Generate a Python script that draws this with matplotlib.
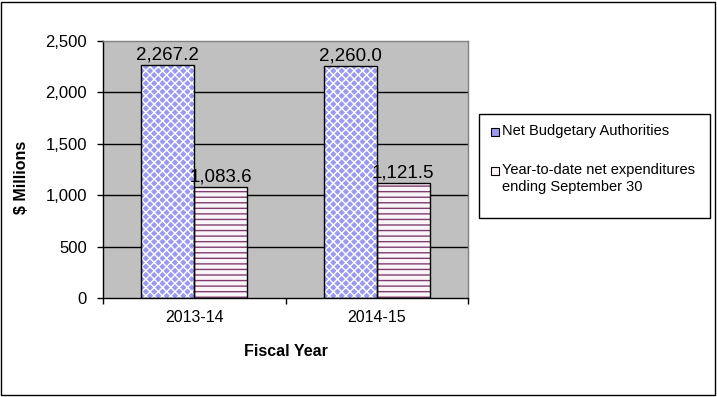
import matplotlib
matplotlib.use("Agg")
import matplotlib.pyplot as plt
from matplotlib.patches import Rectangle

plt.rcParams['font.family'] = ['Liberation Sans', 'DejaVu Sans']
plt.rcParams['hatch.linewidth'] = 1.0

categories = ["2013-14", "2014-15"]
series_names = ["Net Budgetary Authorities",
                "Year-to-date net expenditures\nending September 30"]
authorities = [2267.2, 2260.0]
expenditures = [1083.6, 1121.5]
value_labels_a = ["2,267.2", "2,260.0"]
value_labels_e = ["1,083.6", "1,121.5"]
yticks = [0, 500, 1000, 1500, 2000, 2500]
ytick_labels = ["0", "500", "1,000", "1,500", "2,000", "2,500"]

W, H = 717, 397
fig = plt.figure(figsize=(W / 100, H / 100), dpi=100)
fig.patch.set_facecolor('white')

L, R, T, B = 103, 468, 41, 298
ax = fig.add_axes([L / W, 1 - B / H, (R - L) / W, (B - T) / H])
ax.set_facecolor('#C0C0C0')
ax.set_xlim(0, 2)
ax.set_ylim(0, 2500)

bw = 0.29
centers = [i + 0.5 for i in range(len(categories))]
xa = [c - bw / 2 for c in centers]
xe = [c + bw / 2 for c in centers]

for g in yticks[1:-1]:
    ax.axhline(g, color='black', lw=1, zorder=1)

blue_style = dict(color='#9A9AF2', edgecolor='white', hatch='xxxx')
red_style = dict(color='#FBF4F8', edgecolor='#7E3E6E', hatch='---')

ax.bar(xa, authorities, width=bw, lw=0, zorder=2, **blue_style)
ax.bar(xa, authorities, width=bw, fill=False, edgecolor='black', lw=1, zorder=3)
ax.bar(xe, expenditures, width=bw, lw=0, zorder=2, **red_style)
ax.bar(xe, expenditures, width=bw, fill=False, edgecolor='black', lw=1, zorder=3)

for x, v, s in zip(xa, authorities, value_labels_a):
    ax.annotate(s, (x, v), xytext=(0, 1), textcoords='offset points',
                ha='center', va='bottom', fontsize=13.5)
for x, v, s in zip(xe, expenditures, value_labels_e):
    ax.annotate(s, (x, v), xytext=(0, 1), textcoords='offset points',
                ha='center', va='bottom', fontsize=13.5)

ax.set_yticks(yticks)
ax.set_yticklabels(ytick_labels, fontsize=12)
ax.tick_params(axis='y', length=4.5, width=1, pad=7, direction='out')

ax.set_xticks([0, 1, 2])
ax.set_xticklabels([])
ax.set_xticks(centers, minor=True)
ax.set_xticklabels(categories, minor=True, fontsize=11.5)
ax.tick_params(axis='x', which='major', length=4, width=1, direction='out')
ax.tick_params(axis='x', which='minor', length=0, pad=9)

for side in ['top', 'right']:
    ax.spines[side].set_color('#808080')
    ax.spines[side].set_linewidth(1)
for side in ['left', 'bottom']:
    ax.spines[side].set_color('black')
    ax.spines[side].set_linewidth(1)

fig.text(285.5 / W, 1 - 352 / H, "Fiscal Year", ha='center', va='center',
         fontsize=11.5, fontweight='bold')
fig.text(22 / W, 1 - 177 / H, "$ Millions", ha='center', va='center',
         rotation=90, fontsize=11.5, fontweight='bold')

# outer border
fig.add_artist(Rectangle((1.5 / W, 1 - 394.5 / H), 713.5 / W, 393 / H,
                         transform=fig.transFigure, fill=False,
                         edgecolor='black', lw=1))

# legend (manual)
fig.add_artist(Rectangle((479 / W, 1 - 218 / H), 231 / W, 104 / H,
                         transform=fig.transFigure, fill=False,
                         edgecolor='black', lw=1))
leg_y = [132, 171]
styles = [blue_style, red_style]
for y, name, st in zip(leg_y, series_names, styles):
    fig.add_artist(Rectangle((491 / W, 1 - (y + 4) / H), 8 / W, 8 / H,
                             transform=fig.transFigure, lw=0, **st))
    fig.add_artist(Rectangle((491 / W, 1 - (y + 4) / H), 8 / W, 8 / H,
                             transform=fig.transFigure, fill=False,
                             edgecolor='black', lw=0.8))
    fig.text(502 / W, 1 - (y - 8) / H, name, ha='left', va='top',
             fontsize=10.5, linespacing=1.3)

fig.savefig("out.png", dpi=100)
